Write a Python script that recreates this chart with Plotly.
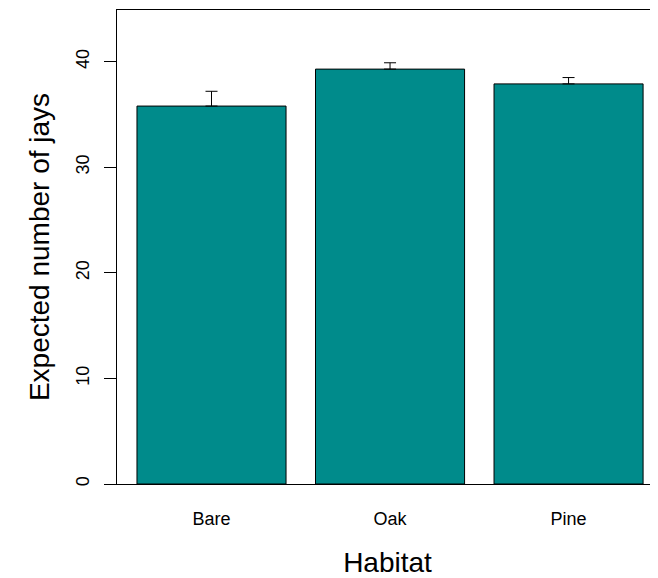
import plotly.graph_objects as go

habitats = ["Bare", "Oak", "Pine"]
expected_jays = [35.8, 39.3, 37.9]
upper_error = [1.4, 0.6, 0.6]

positions = list(range(len(habitats)))

fig = go.Figure()
fig.add_trace(go.Bar(
    x=positions,
    y=expected_jays,
    width=0.835,
    marker=dict(color="#008B8B", line=dict(color="black", width=1)),
    error_y=dict(type="data", symmetric=False, array=upper_error,
                 arrayminus=[0] * len(upper_error),
                 color="black", thickness=1, width=6),
    showlegend=False,
))

font_family = "Liberation Sans, Arial, sans-serif"

fig.update_layout(
    width=650, height=570,
    margin=dict(l=109, r=0, t=2, b=92),
    paper_bgcolor="white", plot_bgcolor="white",
    font=dict(family=font_family, color="black"),
    xaxis=dict(
        range=[-0.5294, 2.501],
        tickmode="array", tickvals=positions, ticktext=habitats,
        tickfont=dict(size=18),
        ticks="", showgrid=False, zeroline=False,
        showline=True, linecolor="black", linewidth=1, mirror=True,
        ticklabelstandoff=18,
        title=dict(text="Habitat", font=dict(size=28), standoff=30),
    ),
    yaxis=dict(
        range=[0, 44.9],
        tickmode="array", tickvals=[0, 10, 20, 30, 40],
        tickfont=dict(size=18), tickangle=-90,
        ticks="outside", ticklen=12, tickcolor="black", tickwidth=1,
        showgrid=False, zeroline=False,
        showline=True, linecolor="black", linewidth=1, mirror=False,
        ticklabelstandoff=8,
        title=dict(text="Expected number of jays", font=dict(size=28), standoff=14),
    ),
)

fig.write_html("out.html")
